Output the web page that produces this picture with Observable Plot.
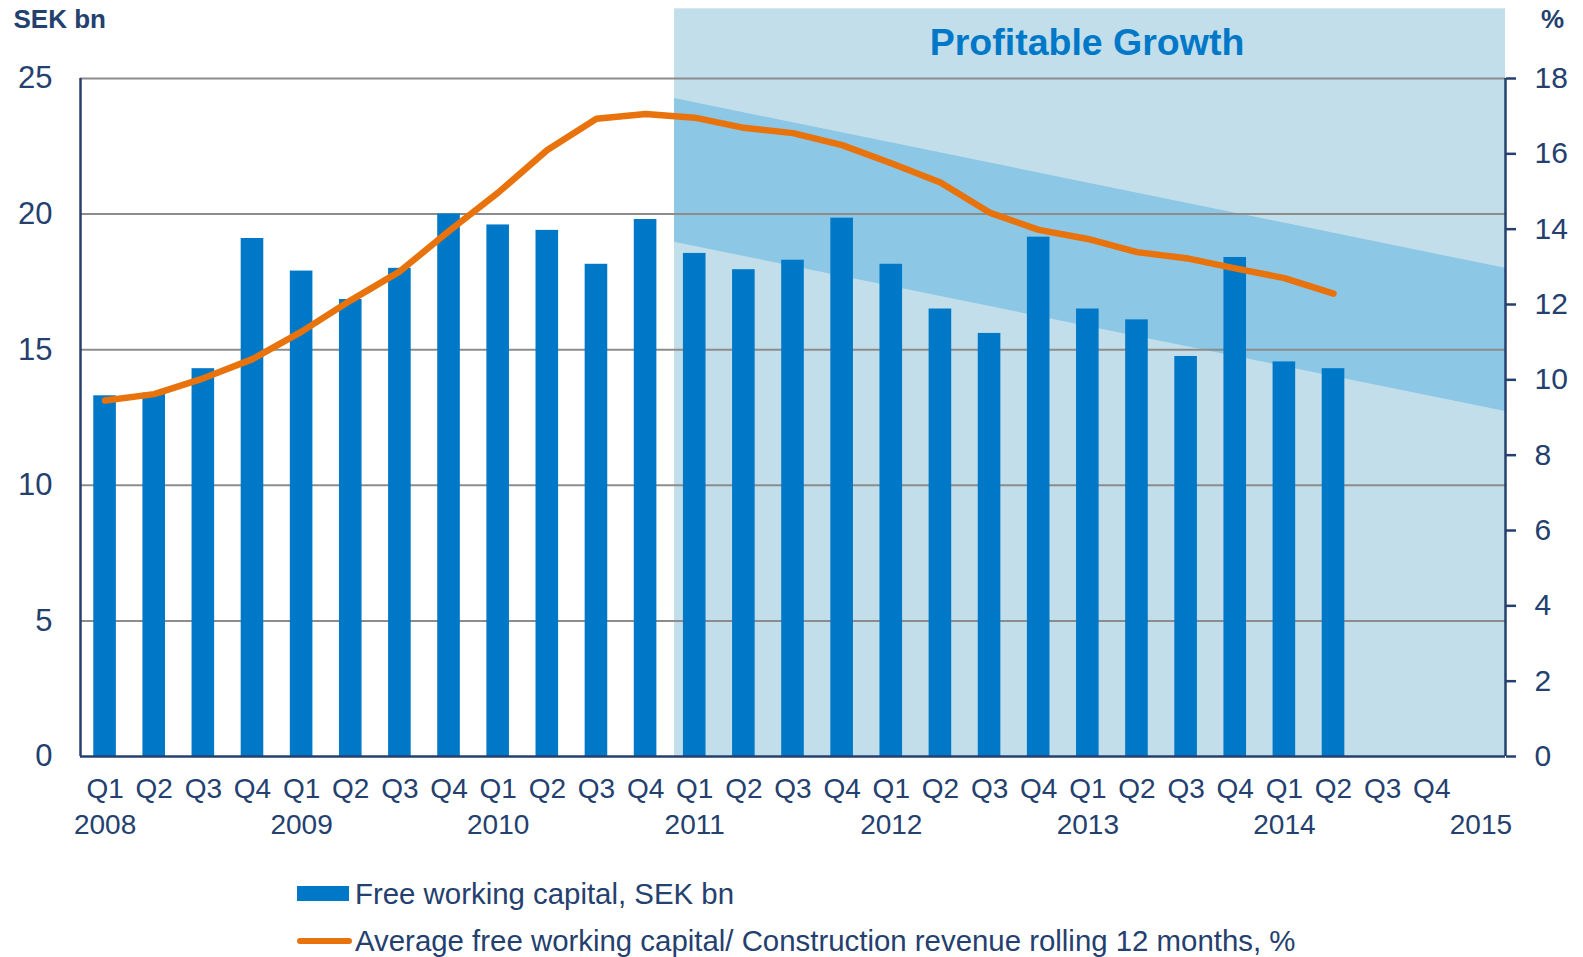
<!DOCTYPE html>
<html>
<head>
<meta charset="utf-8">
<script src="https://cdn.jsdelivr.net/npm/d3@7"></script>
<script src="https://cdn.jsdelivr.net/npm/@observablehq/plot@0.6"></script>
<style>
  html, body { margin: 0; padding: 0; background: #fff; }
  body { width: 1583px; height: 957px; position: relative; overflow: hidden; font-family: "Liberation Sans", Arial, sans-serif; }
  #chart { position: absolute; left: 0; top: 0; }
  .leg { position: absolute; font-size: 29.4px; line-height: 29px; color: #24406E; white-space: nowrap; }
  .sw { position: absolute; }
</style>
</head>
<body>
<div id="chart"></div>
<div class="sw" style="left:297px;top:886px;width:52px;height:15px;background:#0078C8"></div>
<div class="leg" style="left:355px;top:879px">Free working capital, SEK bn</div>
<div class="sw" style="left:297px;top:938px;width:55px;height:6px;border-radius:3px;background:#E8730C"></div>
<div class="leg" style="left:355px;top:926px">Average free working capital/ Construction revenue rolling 12 months, %</div>
<script>
// ---- data ----
const years = [2008, 2009, 2010, 2011, 2012, 2013, 2014, 2015];
const quarterNames = ["Q1", "Q2", "Q3", "Q4"];
// Free working capital, SEK bn (Q1 2008 .. Q2 2014)
const freeWorkingCapital = [13.3, 13.4, 14.3, 19.1, 17.9, 16.85, 18.0, 20.0, 19.6, 19.4, 18.15, 19.8,
  18.55, 17.95, 18.3, 19.85, 18.15, 16.5, 15.6, 19.15, 16.5, 16.1, 14.75, 18.4, 14.55, 14.3];
// Average FWC / construction revenue, rolling 12 months, %
const fwcRatioPct = [9.45, 9.62, 10.04, 10.55, 11.28, 12.11, 12.88, 13.95, 14.97, 16.1, 16.93, 17.06,
  16.96, 16.69, 16.55, 16.23, 15.75, 15.24, 14.44, 13.98, 13.74, 13.39, 13.23, 12.96, 12.7, 12.29];
const leftTicks = [0, 5, 10, 15, 20, 25];
const rightTicks = [0, 2, 4, 6, 8, 10, 12, 14, 16, 18];
// "Profitable Growth" shaded zone (slot units) and target band (SEK bn)
const zoneX = [12.09, 29];
const zoneTop = 27.57;
const bandX = [12.09, 29];
const bandUpper = [24.26, 18.0];
const bandLower = [18.96, 12.72];

// ---- derived ----
const nSlots = 29; // Q1 2008 .. Q1 2015
const LEFT_MAX = 25, RIGHT_MAX = 18;
const toLeft = p => p * LEFT_MAX / RIGHT_MAX;
const bars = freeWorkingCapital.map((v, i) => ({i, v}));
const line = fwcRatioPct.map((p, i) => ({i, p}));
const band = bandX.map((x, k) => ({x, y1: bandLower[k], y2: bandUpper[k]}));
const slotCenters = d3.range(nSlots).map(i => i + 0.5);
const slotLabel = c => {
  const i = Math.floor(c);
  const q = i % 4, y = years[Math.floor(i / 4)];
  if (i === nSlots - 1) return "\u00a0\n" + y;
  return quarterNames[q] + (q === 0 ? "\n" + y : "");
};

const navy = "#24406E";
const font = "'Liberation Sans', Arial, sans-serif";

const chart = Plot.plot({
  width: 1583,
  height: 850,
  marginLeft: 80,
  marginRight: 78,
  marginTop: 78,
  marginBottom: 94,
  style: {fontFamily: font, color: navy, background: "transparent", overflow: "visible"},
  x: {domain: [0, nSlots], axis: null},
  y: {domain: [0, LEFT_MAX], axis: null},
  marks: [
    Plot.rect([{x1: zoneX[0], x2: zoneX[1]}], {x1: "x1", x2: "x2", y1: 0, y2: zoneTop, fill: "#C1DEEA"}),
    Plot.areaY(band, {x: "x", y1: "y1", y2: "y2", fill: "#8DC7E6"}),
    Plot.ruleY(leftTicks.filter(t => t > 0), {stroke: "#8C8C8C", strokeWidth: 2}),
    Plot.rect(bars, {x1: d => d.i + 0.27, x2: d => d.i + 0.73, y1: 0, y2: "v", fill: "#0078C8"}),
    Plot.line(line, {x: d => d.i + 0.5, y: d => toLeft(d.p), stroke: "#E8730C", strokeWidth: 6.5, strokeLinecap: "round", strokeLinejoin: "round"}),
    Plot.ruleX([0], {stroke: navy, strokeWidth: 2.5}),
    Plot.ruleX([nSlots], {stroke: navy, strokeWidth: 2.5}),
    Plot.ruleY([0], {stroke: navy, strokeWidth: 2.5}),
    Plot.axisY(leftTicks, {anchor: "left", tickSize: 0, tickPadding: 28, fontSize: 31, fill: navy}),
    Plot.axisY(rightTicks.map(toLeft), {anchor: "right", tickSize: 10, tickPadding: 19, fontSize: 30, fill: navy, stroke: navy, strokeWidth: 2.5,
      tickFormat: d => String(Math.round(d * RIGHT_MAX / LEFT_MAX))}),
    Plot.axisX(slotCenters, {anchor: "bottom", tickSize: 0, tickPadding: 16, fontSize: 28, lineHeight: 1.29, fill: navy, tickFormat: slotLabel}),
    Plot.text(["Profitable Growth"], {x: (zoneX[0] + zoneX[1]) / 2, frameAnchor: "top", lineAnchor: "bottom", dx: -3, dy: -24, fontSize: 37.5, fontWeight: "bold", fill: "#0078C8"}),
    Plot.text(["SEK bn"], {frameAnchor: "top-left", textAnchor: "start", lineAnchor: "bottom", dx: -67, dy: -51, fontSize: 26, fontWeight: "bold", fill: navy}),
    Plot.text(["%"], {frameAnchor: "top-right", textAnchor: "middle", lineAnchor: "bottom", dx: 47, dy: -51, fontSize: 26, fontWeight: "bold", fill: navy})
  ]
});
document.getElementById("chart").appendChild(chart);
</script>
</body>
</html>
